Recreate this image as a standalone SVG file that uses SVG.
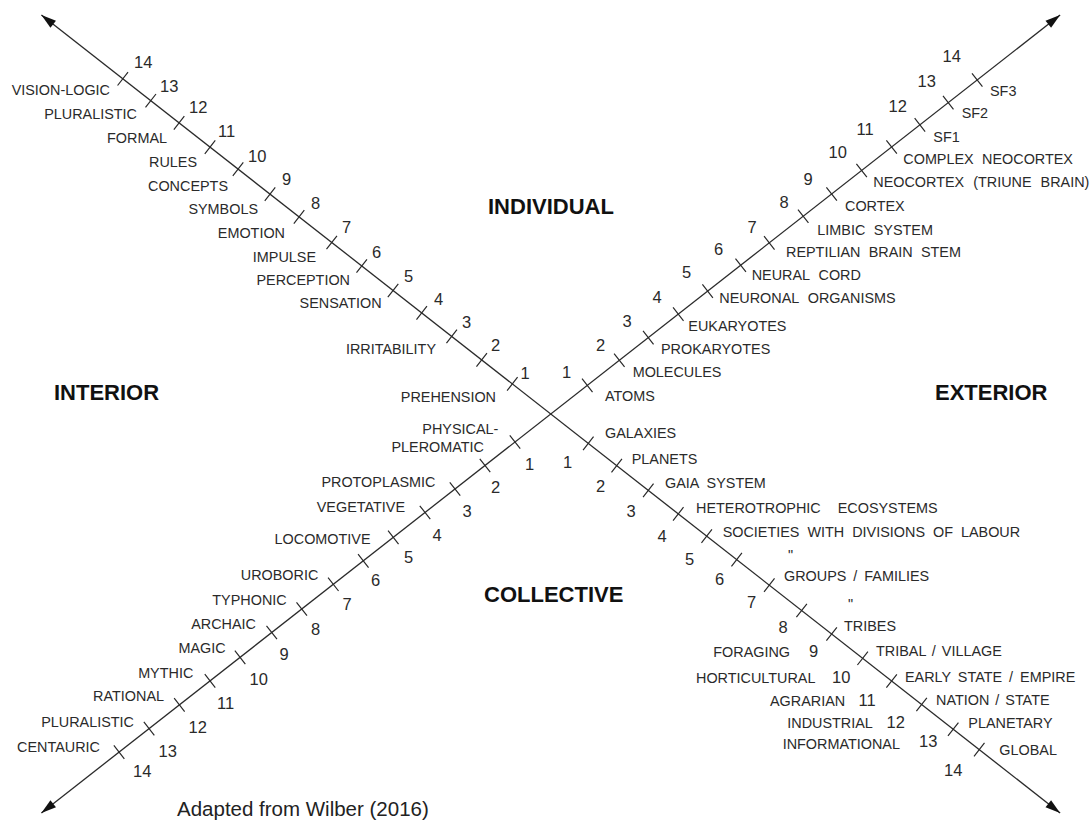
<svg xmlns="http://www.w3.org/2000/svg" width="1091" height="822" viewBox="0 0 1091 822">
<style>
text{font-family:"Liberation Sans",Arial,Helvetica,sans-serif;fill:#2a2a2a}
.l{font-size:14.4px}
.n{font-size:16.5px}
.e{text-anchor:end}
.h{font-size:22px;font-weight:bold;fill:#111}
.src{font-size:20.5px;fill:#222}
.axis{stroke:#2a2a2a;stroke-width:1.3;fill:none}
.tick{stroke:#2a2a2a;stroke-width:1.2;fill:none}
</style>
<defs>
<marker id="arr" markerUnits="userSpaceOnUse" markerWidth="16" markerHeight="10" refX="15" refY="5" orient="auto-start-reverse" overflow="visible">
<path d="M0,0.5 L15,5 L0,9.5 Z" fill="#111"/>
</marker>
</defs>
<rect width="1091" height="822" fill="#fff"/>

<g id="connectors">
<g id="axis-a" transform="translate(550.75 414) rotate(38.07)">
<line class="axis" x1="-647" y1="0" x2="647" y2="0" marker-start="url(#arr)" marker-end="url(#arr)"/>
<path class="tick" d="M-48.8,-8.5V8.5M-87.7,-8.5V8.5M-125.8,-8.5V8.5M-163.9,-8.5V8.5M-200.3,-8.5V8.5M-240.1,-8.5V8.5M-278.2,-8.5V8.5M-319.7,-8.5V8.5M-356.6,-8.5V8.5M-397.2,-8.5V8.5M-432.8,-8.5V8.5M-472.1,-8.5V8.5M-508.1,-8.5V8.5M-543.6,-8.5V8.5"/>
<path class="tick" d="M47.7,-8.5V8.5M83.8,-8.5V8.5M123.9,-8.5V8.5M162,-8.5V8.5M198.1,-8.5V8.5M236.2,-8.5V8.5M277.6,-8.5V8.5M318.7,-8.5V8.5M356.8,-8.5V8.5M396.2,-8.5V8.5M433,-8.5V8.5M471.1,-8.5V8.5M511.2,-8.5V8.5M544.3,-8.5V8.5"/>
</g>
<g id="axis-b" transform="translate(550.75 414) rotate(-38.07)">
<line class="axis" x1="-647" y1="0" x2="647" y2="0" marker-start="url(#arr)" marker-end="url(#arr)"/>
<path class="tick" d="M46.4,-8.5V8.5M87.1,-8.5V8.5M123.9,-8.5V8.5M162,-8.5V8.5M199.3,-8.5V8.5M241.3,-8.5V8.5M277.6,-8.5V8.5M320.7,-8.5V8.5M356.8,-8.5V8.5M394.9,-8.5V8.5M433,-8.5V8.5M468.9,-8.5V8.5M504.9,-8.5V8.5M541.7,-8.5V8.5"/>
<path class="tick" d="M-45.4,-8.5V8.5M-83.5,-8.5V8.5M-121.6,-8.5V8.5M-159.7,-8.5V8.5M-200,-8.5V8.5M-238.1,-8.5V8.5M-276.2,-8.5V8.5M-316.3,-8.5V8.5M-354.4,-8.5V8.5M-394.6,-8.5V8.5M-432.8,-8.5V8.5M-471.7,-8.5V8.5M-510.2,-8.5V8.5M-548.3,-8.5V8.5"/>
</g>
</g>

<g id="headings">
<text class="h" x="488" y="214">INDIVIDUAL</text>
<text class="h" x="54" y="400">INTERIOR</text>
<text class="h" x="935" y="400">EXTERIOR</text>
<text class="h" x="484" y="601.7">COLLECTIVE</text>
</g>

<g id="interior-individual">
<text class="n" x="134" y="68">14</text>
<text class="n" x="160" y="92">13</text>
<text class="n" x="189" y="113">12</text>
<text class="n" x="218" y="137">11</text>
<text class="n" x="248" y="162">10</text>
<text class="n" x="282" y="185">9</text>
<text class="n" x="311" y="209">8</text>
<text class="n" x="342" y="233">7</text>
<text class="n" x="372" y="258">6</text>
<text class="n" x="404" y="282">5</text>
<text class="n" x="434" y="305">4</text>
<text class="n" x="462" y="328">3</text>
<text class="n" x="491" y="350.7">2</text>
<text class="n" x="520.5" y="379.3">1</text>
<text class="l e" x="110" y="95">VISION-LOGIC</text>
<text class="l e" x="137" y="119">PLURALISTIC</text>
<text class="l e" x="167" y="143">FORMAL</text>
<text class="l e" x="197" y="167">RULES</text>
<text class="l e" x="228" y="191">CONCEPTS</text>
<text class="l e" x="258" y="214">SYMBOLS</text>
<text class="l e" x="285" y="238">EMOTION</text>
<text class="l e" x="316" y="262">IMPULSE</text>
<text class="l e" x="350" y="285">PERCEPTION</text>
<text class="l e" x="381.7" y="308">SENSATION</text>
<text class="l e" x="436" y="354">IRRITABILITY</text>
<text class="l e" x="496" y="401.7">PREHENSION</text>
</g>

<g id="exterior-individual">
<text class="n" x="562" y="378.3">1</text>
<text class="n" x="596" y="350.7">2</text>
<text class="n" x="622.5" y="327.3">3</text>
<text class="n" x="652.5" y="303.3">4</text>
<text class="n" x="682" y="278.3">5</text>
<text class="n" x="714" y="255">6</text>
<text class="n" x="747.5" y="233.3">7</text>
<text class="n" x="779.5" y="208.3">8</text>
<text class="n" x="803.5" y="185">9</text>
<text class="n" x="828.5" y="158.3">10</text>
<text class="n" x="856.5" y="135">11</text>
<text class="n" x="888.5" y="111.7">12</text>
<text class="n" x="917.5" y="86.7">13</text>
<text class="n" x="942.5" y="61.7">14</text>
<text class="l" x="605" y="401">ATOMS</text>
<text class="l" x="632.7" y="376.7">MOLECULES</text>
<text class="l" x="661" y="354">PROKARYOTES</text>
<text class="l" x="688.3" y="330.7">EUKARYOTES</text>
<text class="l" x="719.3" y="302.7" word-spacing="5">NEURONAL ORGANISMS</text>
<text class="l" x="751.7" y="280" word-spacing="5">NEURAL CORD</text>
<text class="l" x="786" y="257" word-spacing="4.3">REPTILIAN BRAIN STEM</text>
<text class="l" x="817.3" y="235" word-spacing="4.5">LIMBIC SYSTEM</text>
<text class="l" x="845" y="211">CORTEX</text>
<text class="l" x="873.3" y="186.7" word-spacing="5">NEOCORTEX (TRIUNE BRAIN)</text>
<text class="l" x="903.3" y="164.3" word-spacing="4.4">COMPLEX NEOCORTEX</text>
<text class="l" x="933.3" y="141.7">SF1</text>
<text class="l" x="961.7" y="118.3">SF2</text>
<text class="l" x="990" y="96">SF3</text>
</g>

<g id="interior-collective">
<text class="n" x="525" y="470">1</text>
<text class="n" x="491" y="493.3">2</text>
<text class="n" x="462.5" y="517">3</text>
<text class="n" x="432.5" y="540.7">4</text>
<text class="n" x="404" y="563.3">5</text>
<text class="n" x="371" y="586">6</text>
<text class="n" x="342.5" y="610">7</text>
<text class="n" x="311" y="635">8</text>
<text class="n" x="279.5" y="660">9</text>
<text class="n" x="249.5" y="685">10</text>
<text class="n" x="217" y="709.3">11</text>
<text class="n" x="188.5" y="733.3">12</text>
<text class="n" x="158.5" y="757.3">13</text>
<text class="n" x="133" y="777.3">14</text>
<text class="l e" x="498.3" y="434">PHYSICAL-</text>
<text class="l e" x="484" y="451.7">PLEROMATIC</text>
<text class="l e" x="435.5" y="486.7">PROTOPLASMIC</text>
<text class="l e" x="405" y="511.7">VEGETATIVE</text>
<text class="l e" x="370.5" y="544">LOCOMOTIVE</text>
<text class="l e" x="318.3" y="580">UROBORIC</text>
<text class="l e" x="286.7" y="605">TYPHONIC</text>
<text class="l e" x="256" y="629.3">ARCHAIC</text>
<text class="l e" x="225.7" y="653.3">MAGIC</text>
<text class="l e" x="193.3" y="678.3">MYTHIC</text>
<text class="l e" x="164" y="700.7">RATIONAL</text>
<text class="l e" x="134" y="726.7">PLURALISTIC</text>
<text class="l e" x="100" y="751.7">CENTAURIC</text>
</g>

<g id="exterior-collective">
<text class="n" x="563" y="468.3">1</text>
<text class="n" x="596" y="492">2</text>
<text class="n" x="626.5" y="516.7">3</text>
<text class="n" x="657.5" y="541.7">4</text>
<text class="n" x="685" y="565">5</text>
<text class="n" x="715" y="585">6</text>
<text class="n" x="747" y="608.3">7</text>
<text class="n" x="778.5" y="633.3">8</text>
<text class="n" x="809" y="656.7">9</text>
<text class="n" x="832" y="682.7">10</text>
<text class="n" x="858.5" y="706">11</text>
<text class="n" x="886.5" y="728.3">12</text>
<text class="n" x="919" y="747.3">13</text>
<text class="n" x="944" y="776">14</text>
<text class="l" x="605" y="438.3">GALAXIES</text>
<text class="l" x="631.7" y="464.3">PLANETS</text>
<text class="l" x="665" y="488.3" word-spacing="4">GAIA SYSTEM</text>
<text class="l" x="696" y="512.7" word-spacing="13">HETEROTROPHIC ECOSYSTEMS</text>
<text class="l" x="722.7" y="536.7" word-spacing="4">SOCIETIES WITH DIVISIONS OF LABOUR</text>
<text class="l" x="788" y="560">"</text>
<text class="l" x="784" y="581" word-spacing="3">GROUPS / FAMILIES</text>
<text class="l" x="848" y="608.5">"</text>
<text class="l" x="844" y="630.7">TRIBES</text>
<text class="l" x="876" y="656" word-spacing="2">TRIBAL / VILLAGE</text>
<text class="l" x="905" y="681.7" word-spacing="3">EARLY STATE / EMPIRE</text>
<text class="l" x="936" y="705" word-spacing="2">NATION / STATE</text>
<text class="l" x="968.3" y="728.3">PLANETARY</text>
<text class="l" x="999.3" y="755">GLOBAL</text>
<text class="l" x="713.3" y="657.3">FORAGING</text>
<text class="l" x="696" y="682.7">HORTICULTURAL</text>
<text class="l" x="770" y="706">AGRARIAN</text>
<text class="l" x="787.3" y="728.3">INDUSTRIAL</text>
<text class="l" x="782.7" y="749.3">INFORMATIONAL</text>
</g>

<g id="source">
<text class="src" x="177" y="816">Adapted from Wilber (2016)</text>
</g>
</svg>
